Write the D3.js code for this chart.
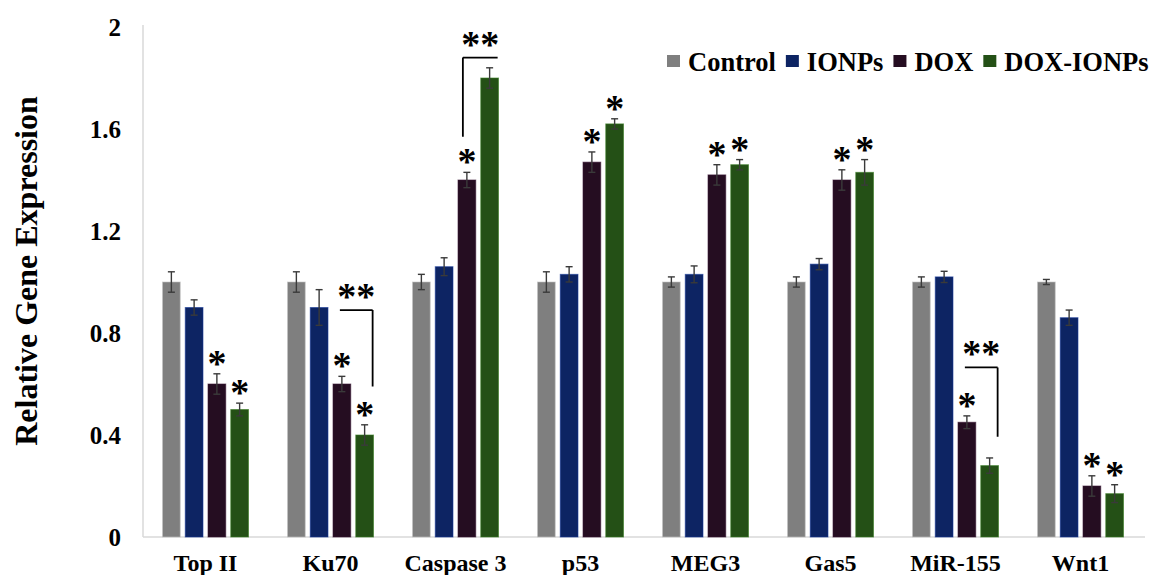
<!DOCTYPE html>
<html><head><meta charset="utf-8">
<script src="https://cdn.jsdelivr.net/npm/d3@7"></script>
<style>body{margin:0;background:#fff}svg{display:block}text{font-family:"Liberation Serif","Times New Roman",serif;font-weight:bold;fill:#000}</style>
</head><body><svg id="c" width="1151" height="575"></svg>
<script>
const categories = ["Top II","Ku70","Caspase 3","p53","MEG3","Gas5","MiR-155","Wnt1"];
const seriesNames = ["Control","IONPs","DOX","DOX-IONPs"];
const seriesColors = ["#7f7f7f","#0d2463","#250d21","#245016"];
const controlVals = [1.00,1.00,1.00,1.00,1.00,1.00,1.00,1.00];
const ionpVals    = [0.90,0.90,1.06,1.03,1.03,1.07,1.02,0.86];
const doxVals     = [0.60,0.60,1.40,1.47,1.42,1.40,0.45,0.20];
const doxIonpVals = [0.50,0.40,1.80,1.62,1.46,1.43,0.28,0.17];
const controlErr  = [0.04,0.04,0.03,0.04,0.02,0.02,0.02,0.01];
const ionpErr     = [0.03,0.07,0.035,0.03,0.033,0.022,0.022,0.03];
const doxErr      = [0.04,0.03,0.03,0.04,0.04,0.04,0.025,0.04];
const doxIonpErr  = [0.025,0.04,0.04,0.02,0.02,0.05,0.03,0.035];
const yTicks = [0,0.4,0.8,1.2,1.6,2];
const yTickLabels = ["0","0.4","0.8","1.2","1.6","2"];
// significance marks: [category, series]
const singleStars = [["Top II","DOX"],["Top II","DOX-IONPs"],["Ku70","DOX"],["Ku70","DOX-IONPs"],["Caspase 3","DOX"],["p53","DOX"],["p53","DOX-IONPs"],["MEG3","DOX"],["MEG3","DOX-IONPs"],["Gas5","DOX"],["Gas5","DOX-IONPs"],["MiR-155","DOX"],["Wnt1","DOX"],["Wnt1","DOX-IONPs"]];
// brackets: category, top value, bottom value of leg, leg side
const brackets = [
  {cat:"Ku70", top:0.89, bottom:0.59, leg:"right"},
  {cat:"Caspase 3", top:1.88, bottom:1.57, leg:"left"},
  {cat:"MiR-155", top:0.665, bottom:0.393, leg:"right"}
];

const vals = [controlVals, ionpVals, doxVals, doxIonpVals];
const errs = [controlErr, ionpErr, doxErr, doxIonpErr];
const data = [];
categories.forEach((c,i)=>seriesNames.forEach((s,j)=>data.push({cat:c, series:s, v:vals[j][i], e:errs[j][i], color:seriesColors[j]})));
const lookup = (c,s)=>data.find(d=>d.cat===c&&d.series===s);

const svg = d3.select("#c");
const x0 = d3.scaleBand().domain(categories).range([143,1143]).paddingInner(0.312).paddingOuter(0.156);
const x1 = d3.scaleBand().domain(seriesNames).range([0,x0.bandwidth()]).paddingInner(0.22);
const y = d3.scaleLinear().domain([0,2]).range([537,27]);
const cx = d=>x0(d.cat)+x1(d.series)+x1.bandwidth()/2;

// axes lines
svg.append("line").attr("x1",143).attr("x2",143).attr("y1",y(2)-2).attr("y2",y(0)).attr("stroke","#d9d9d9").attr("stroke-width",1.5);
svg.append("line").attr("x1",143).attr("x2",1145).attr("y1",y(0)).attr("y2",y(0)).attr("stroke","#d9d9d9").attr("stroke-width",1.5);

// y ticks
const yAxis = d3.axisLeft(y).tickValues(yTicks).tickFormat((d,i)=>yTickLabels[i]).tickSize(0).tickPadding(22);
const ya = svg.append("g").attr("transform","translate(143,0)").call(yAxis);
ya.select(".domain").remove();
ya.selectAll("text").style("font-size","25px").style("font-family","'Liberation Serif',serif").style("font-weight","bold").attr("fill","#000");

// x labels
const xAxis = d3.axisBottom(x0).tickSize(0).tickPadding(0);
const xa = svg.append("g").call(xAxis);
xa.select(".domain").remove();
xa.selectAll("text").attr("y",571).attr("dy",null).style("font-size","24px").style("font-family","'Liberation Serif',serif").style("font-weight","bold").attr("fill","#000");

// bars
svg.append("g").selectAll("rect").data(data).join("rect")
  .attr("x",d=>x0(d.cat)+x1(d.series)).attr("width",x1.bandwidth())
  .attr("y",d=>y(d.v)).attr("height",d=>y(0)-y(d.v))
  .attr("fill",d=>d.color).attr("stroke",d=>d3.color(d.color).brighter(1.2)).attr("stroke-width",1).attr("stroke-opacity",0.6);

// error bars
const eg = svg.append("g").attr("stroke","#3a3a3a").attr("stroke-width",1.4);
data.forEach(d=>{
  const x=cx(d), t=y(d.v+d.e), b=y(d.v-d.e);
  eg.append("line").attr("x1",x).attr("x2",x).attr("y1",t).attr("y2",b);
  eg.append("line").attr("x1",x-3.5).attr("x2",x+3.5).attr("y1",t).attr("y2",t);
  eg.append("line").attr("x1",x-3.5).attr("x2",x+3.5).attr("y1",b).attr("y2",b);
});

// single stars
svg.append("g").selectAll("text").data(singleStars.map(s=>lookup(s[0],s[1]))).join("text")
  .attr("x",d=>cx(d)).attr("y",d=>y(d.v+d.e)+2).attr("text-anchor","middle")
  .style("font-size","38px").text("*");

// brackets
const bg = svg.append("g");
brackets.forEach(b=>{
  const dox = lookup(b.cat,"DOX"), di = lookup(b.cat,"DOX-IONPs");
  let xl, xr;
  if(b.leg==="right"){ xl = cx(dox)-2; xr = cx(di)+8; }
  else { xl = cx(dox)-4; xr = cx(di)+8; }
  const legX = b.leg==="right"? xr : xl;
  bg.append("path").attr("d",`M${xl},${y(b.top)}H${xr}M${legX},${y(b.top)}V${y(b.bottom)}`)
    .attr("fill","none").attr("stroke","#000").attr("stroke-width",1.8);
  bg.append("text").attr("x",(xl+xr)/2).attr("y",y(b.top)-1).attr("text-anchor","middle").style("font-size","38px").text("**");
});

// legend
const lg = svg.append("g");
let lx = 667;
seriesNames.forEach((s,j)=>{
  lg.append("rect").attr("x",lx).attr("y",55).attr("width",13).attr("height",12).attr("fill",seriesColors[j]);
  const t = lg.append("text").attr("x",lx+21).attr("y",71).style("font-size","26.5px").text(s);
  lx += 21 + t.node().getComputedTextLength() + 10;
});

// y title
svg.append("text").attr("transform","translate(37,271) rotate(-90)").attr("text-anchor","middle").style("font-size","32px").text("Relative Gene Expression");
</script></body></html>
